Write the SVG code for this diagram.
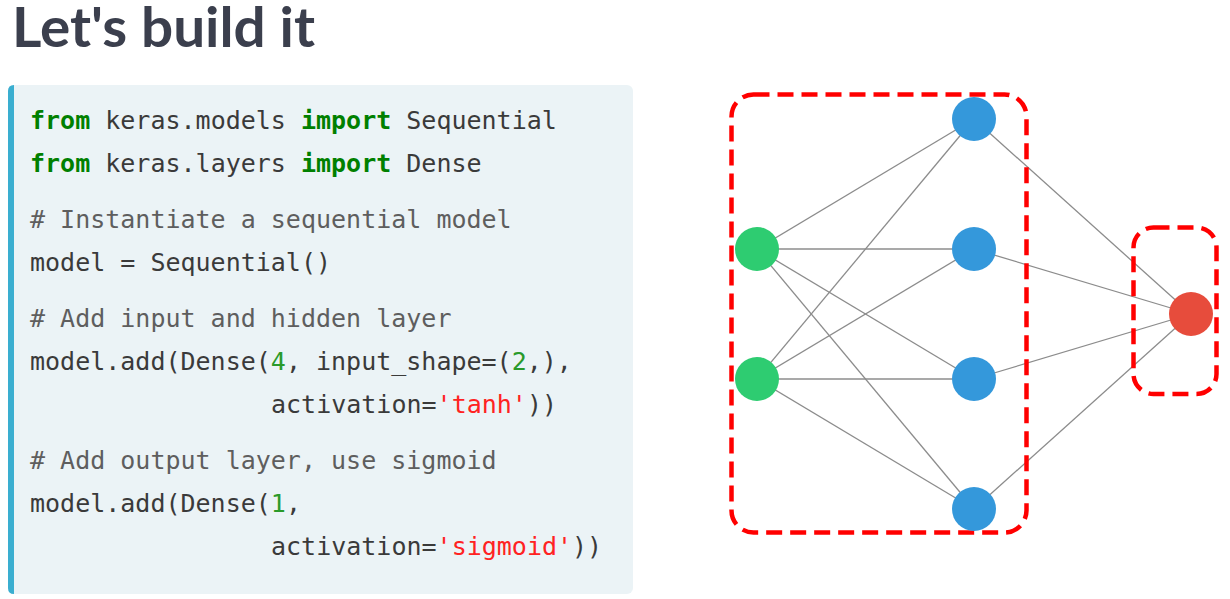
<svg xmlns="http://www.w3.org/2000/svg" width="1230" height="599" viewBox="0 0 1230 599">
<style>
.title{font-family:Lato,"Open Sans",sans-serif;font-weight:700;font-size:55px;fill:#3b3f4d}
.code{font-family:"DejaVu Sans Mono","Liberation Mono",monospace;font-size:25px;fill:#3a3a3a}
.kw{fill:#008000;font-weight:700}
.cm{fill:#5e5e5e}
.num{fill:#2a9a2a}
.str{fill:#ff2222}
.edge{stroke:#8c8c8c;stroke-width:1.3;fill:none}
.grp{fill:none;stroke:#ff0000;stroke-width:4.5;stroke-dasharray:16 8}
.in{fill:#2ecc71}
.hid{fill:#3498db}
.out{fill:#e74c3c}
</style>
<rect width="1230" height="599" fill="#ffffff"/>
<text class="title" x="12" y="47" textLength="303" lengthAdjust="spacingAndGlyphs">Let's build it</text>
<g id="codebox">
<rect x="8" y="85" width="625" height="509" rx="6" fill="#ebf3f6"/>
<path d="M14 85 H14 V594 H14 Q8 594 8 588 V91 Q8 85 14 85 Z" fill="#3aaed0"/>
<text class="code" xml:space="preserve"><tspan x="30" y="129"><tspan class="kw">from</tspan> keras.models <tspan class="kw">import</tspan> Sequential</tspan><tspan x="30" y="172"><tspan class="kw">from</tspan> keras.layers <tspan class="kw">import</tspan> Dense</tspan><tspan x="30" y="228" class="cm"># Instantiate a sequential model</tspan><tspan x="30" y="271">model = Sequential()</tspan><tspan x="30" y="327" class="cm"># Add input and hidden layer</tspan><tspan x="30" y="370">model.add(Dense(<tspan class="num">4</tspan>, input_shape=(<tspan class="num">2</tspan>,),</tspan><tspan x="271" y="413">activation=<tspan class="str">'tanh'</tspan>))</tspan><tspan x="30" y="469" class="cm"># Add output layer, use sigmoid</tspan><tspan x="30" y="512">model.add(Dense(<tspan class="num">1</tspan>,</tspan><tspan x="271" y="555">activation=<tspan class="str">'sigmoid'</tspan>))</tspan></text>
</g>
<g id="connectors">
<line class="edge" x1="757" y1="249" x2="974" y2="119"/>
<line class="edge" x1="757" y1="249" x2="974" y2="249"/>
<line class="edge" x1="757" y1="249" x2="974" y2="379"/>
<line class="edge" x1="757" y1="249" x2="974" y2="509"/>
<line class="edge" x1="757" y1="379" x2="974" y2="119"/>
<line class="edge" x1="757" y1="379" x2="974" y2="249"/>
<line class="edge" x1="757" y1="379" x2="974" y2="379"/>
<line class="edge" x1="757" y1="379" x2="974" y2="509"/>
<line class="edge" x1="974" y1="119" x2="1191" y2="314"/>
<line class="edge" x1="974" y1="249" x2="1191" y2="314"/>
<line class="edge" x1="974" y1="379" x2="1191" y2="314"/>
<line class="edge" x1="974" y1="509" x2="1191" y2="314"/>
</g>
<g id="group-input-hidden"><rect class="grp" x="731.5" y="94.5" width="295" height="438" rx="22"/></g>
<g id="group-output"><rect class="grp" x="1133.5" y="227.5" width="83" height="166.5" rx="20"/></g>
<g id="node-in1"><circle class="in" cx="757" cy="249" r="22"/></g>
<g id="node-in2"><circle class="in" cx="757" cy="379" r="22"/></g>
<g id="node-h1"><circle class="hid" cx="974" cy="119" r="22"/></g>
<g id="node-h2"><circle class="hid" cx="974" cy="249" r="22"/></g>
<g id="node-h3"><circle class="hid" cx="974" cy="379" r="22"/></g>
<g id="node-h4"><circle class="hid" cx="974" cy="509" r="22"/></g>
<g id="node-out"><circle class="out" cx="1191" cy="314" r="22"/></g>
</svg>
